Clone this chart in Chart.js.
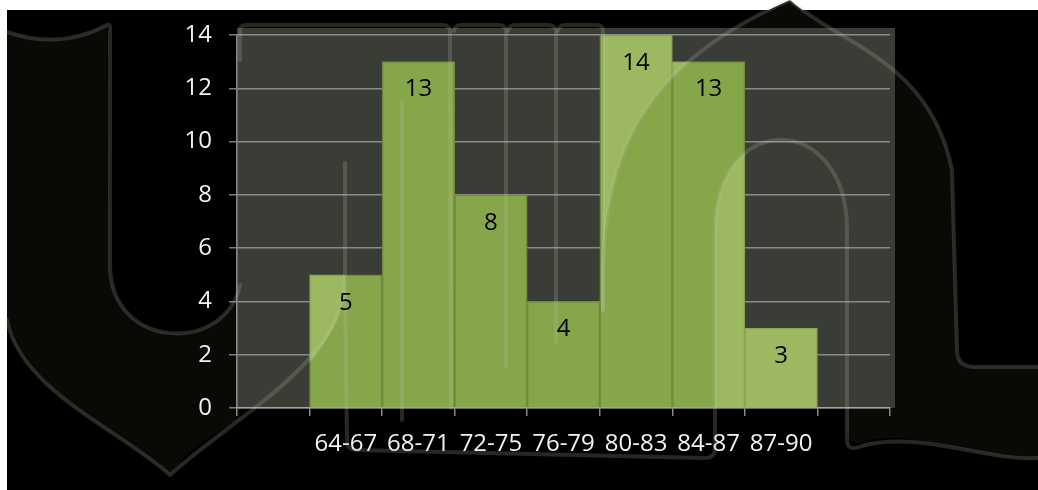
<!DOCTYPE html>
<html><head><meta charset="utf-8">
<style>html,body{margin:0;padding:0;background:#000;overflow:hidden}canvas{display:block}</style>
<script src="https://cdn.jsdelivr.net/npm/chart.js@4/dist/chart.umd.min.js"></script>
</head><body>
<canvas id="c" width="1038" height="490"></canvas>
<script>
const categories = ['64-67','68-71','72-75','76-79','80-83','84-87','87-90'];
const frequencies = [5,13,8,4,14,13,3];
const yTicks = [0,2,4,6,8,10,12,14];

// one empty slot either side, as in the reference
const labels = ['', ...categories, ''];
const values = [null, ...frequencies, null];

const FONT = "'Open Sans', 'Noto Sans', sans-serif";

function leftShape(ctx){
  ctx.beginPath();
  ctx.moveTo(7,32);
  ctx.quadraticCurveTo(60,50,107,25);
  ctx.lineTo(110,265);
  ctx.bezierCurveTo(110,350,225,355,240,285);
  ctx.lineTo(240,420);
  ctx.bezierCurveTo(215,432,185,452,170,475);
  ctx.bezierCurveTo(120,430,20,390,7,320);
  ctx.closePath();
}
function rightShape(ctx){
  ctx.beginPath();
  ctx.moveTo(790,0);
  ctx.bezierCurveTo(840,45,930,60,952,170);
  ctx.lineTo(957,350);
  ctx.quadraticCurveTo(957,367,975,367);
  ctx.lineTo(1038,367);
  ctx.lineTo(1038,458);
  ctx.bezierCurveTo(990,462,920,430,870,440);
  ctx.quadraticCurveTo(847,450,847,430);
  ctx.lineTo(847,230);
  ctx.bezierCurveTo(847,110,715,110,715,230);
  ctx.lineTo(715,408);
  ctx.lineTo(601,408);
  ctx.lineTo(601,310);
  ctx.bezierCurveTo(598,170,630,70,790,0);
  ctx.closePath();
}

const backdrop = {
  id:'backdrop',
  beforeDraw(chart){
    const ctx = chart.ctx;
    ctx.save();
    ctx.fillStyle = '#ffffff';
    ctx.fillRect(0,0,chart.width,chart.height);
    ctx.fillStyle = '#000000';
    ctx.fillRect(7,10,chart.width-7,chart.height-10);
    ctx.fillStyle = '#070a05';
    leftShape(ctx); ctx.fill();
    rightShape(ctx); ctx.fill();
    const a = chart.chartArea;
    ctx.fillStyle = '#3a3d36';
    ctx.fillRect(a.left, a.top-7, a.right-a.left+5, a.bottom-a.top+7);
    ctx.restore();
  }
};

const watermark = {
  id:'watermark',
  afterDatasetsDraw(chart){
    const ctx = chart.ctx;
    const meta = chart.getDatasetMeta(0);
    ctx.save();
    ctx.beginPath();
    meta.data.forEach(b=>{
      if (b.skip || b.y == null || isNaN(b.y)) return;
      const w = b.width;
      ctx.rect(b.x - w/2, b.y, w, b.base - b.y);
    });
    ctx.clip();
    ctx.fillStyle = 'rgba(225,245,170,0.25)';
    ctx.beginPath();
    ctx.moveTo(345,163); ctx.lineTo(345,292);
    ctx.bezierCurveTo(338,330,320,350,300,375);
    ctx.lineTo(0,480); ctx.lineTo(0,163); ctx.closePath(); ctx.fill();
    ctx.beginPath();
    ctx.moveTo(603,310); ctx.bezierCurveTo(598,170,630,70,790,0);
    ctx.lineTo(603,0); ctx.closePath(); ctx.fill();
    ctx.beginPath();
    ctx.moveTo(715,460); ctx.lineTo(715,230);
    ctx.bezierCurveTo(715,110,847,110,847,230);
    ctx.lineTo(847,460); ctx.closePath(); ctx.fill();
    ctx.restore();

    ctx.save();
    ctx.strokeStyle = 'rgba(195,200,180,0.2)';
    ctx.lineWidth = 4;
    ctx.lineCap = 'round';
    ctx.lineJoin = 'round';
    const s = (fn)=>{ctx.beginPath(); fn(); ctx.stroke();};
    s(()=>{ctx.moveTo(7,32); ctx.quadraticCurveTo(60,50,107,25); ctx.quadraticCurveTo(111,23,110,32);
      ctx.lineTo(110,265); ctx.bezierCurveTo(110,350,225,355,240,285);});
    s(()=>{ctx.moveTo(7,320); ctx.bezierCurveTo(20,390,120,430,170,475);
      ctx.bezierCurveTo(230,420,330,370,345,292); ctx.lineTo(345,163);});
    s(()=>{ctx.moveTo(345,292); ctx.lineTo(347,440); ctx.quadraticCurveTo(347,450,357,450);
      ctx.lineTo(705,458); ctx.quadraticCurveTo(715,458,715,448); ctx.lineTo(715,230);
      ctx.bezierCurveTo(715,110,847,110,847,230); ctx.lineTo(847,440);
      ctx.quadraticCurveTo(847,452,862,446); ctx.bezierCurveTo(920,430,990,462,1038,458);});
    s(()=>{ctx.moveTo(240,60); ctx.lineTo(240,30); ctx.quadraticCurveTo(240,25,246,25); ctx.lineTo(443,25);
      ctx.quadraticCurveTo(449,25,450,31); ctx.lineTo(451,408);});
    s(()=>{ctx.moveTo(402,420); ctx.lineTo(402,103);});
    s(()=>{ctx.moveTo(454,31); ctx.quadraticCurveTo(455,25,461,25); ctx.lineTo(499,25);
      ctx.quadraticCurveTo(505,25,506,31); ctx.lineTo(506,367);});
    s(()=>{ctx.moveTo(508,31); ctx.quadraticCurveTo(509,25,515,25); ctx.lineTo(548,25);
      ctx.quadraticCurveTo(555,25,556,31); ctx.lineTo(556,343);});
    s(()=>{ctx.moveTo(558,31); ctx.quadraticCurveTo(559,25,565,25); ctx.lineTo(597,25);
      ctx.quadraticCurveTo(603,25,603,31); ctx.lineTo(603,310);});
    s(()=>{ctx.moveTo(603,310); ctx.bezierCurveTo(598,170,630,70,790,0);});
    s(()=>{ctx.moveTo(790,0); ctx.bezierCurveTo(840,45,930,60,952,170); ctx.lineTo(957,350);
      ctx.quadraticCurveTo(957,367,975,367); ctx.lineTo(1038,367);});
    ctx.restore();
  }
};

const valueLabels = {
  id:'valueLabels',
  afterDraw(chart){
    const ctx = chart.ctx;
    const meta = chart.getDatasetMeta(0);
    ctx.save();
    ctx.fillStyle = '#000';
    ctx.font = '24px ' + FONT;
    ctx.textAlign = 'center';
    ctx.textBaseline = 'middle';
    meta.data.forEach((b,i)=>{
      const v = values[i];
      if (v == null) return;
      ctx.fillText(String(v), b.x, b.y + 28);
    });
    ctx.restore();
  }
};

new Chart(document.getElementById('c'), {
  type:'bar',
  data:{
    labels: labels,
    datasets:[{
      data: values,
      backgroundColor:'#86a64a',
      borderColor:'#6f8b3b',
      borderWidth:1.5,
      barPercentage:1,
      categoryPercentage:1
    }]
  },
  options:{
    responsive:false,
    animation:false,
    layout:{padding:{left:0,right:148,top:35,bottom:0}},
    plugins:{legend:{display:false},tooltip:{enabled:false}},
    scales:{
      x:{
        offset:true,
        grid:{display:true,drawOnChartArea:false,drawTicks:true,tickLength:8,color:'rgba(170,170,170,0.8)',lineWidth:1.5},
        border:{display:true,color:'rgba(170,170,170,0.8)',width:1.5},
        ticks:{color:'#f2f2f2',font:{family:FONT,size:24},padding:14,maxRotation:0,autoSkip:false},
        afterFit(s){ s.height = 82; }
      },
      y:{
        min:0,max:14,
        afterBuildTicks(s){ s.ticks = yTicks.map(v=>({value:v})); },
        grid:{color:'rgba(165,165,165,0.75)',lineWidth:1.5,tickLength:8,drawTicks:true},
        border:{display:true,color:'rgba(170,170,170,0.8)',width:1.5},
        ticks:{color:'#f2f2f2',font:{family:FONT,size:24},padding:17},
        afterFit(s){ s.width = 237; }
      }
    }
  },
  plugins:[backdrop, watermark, valueLabels]
});
</script>
</body></html>
